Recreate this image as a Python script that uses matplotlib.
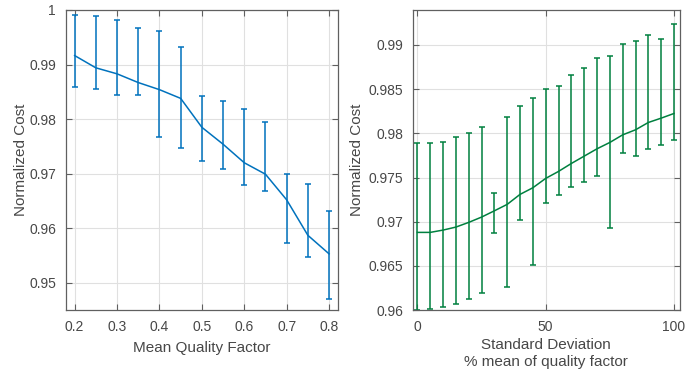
import matplotlib
matplotlib.use('Agg')
import matplotlib.pyplot as plt
import numpy as np

plt.rcParams['font.family'] = ['Liberation Sans', 'DejaVu Sans']

# left panel: cost vs mean quality factor
q_mean = [0.2, 0.25, 0.3, 0.35, 0.4, 0.45, 0.5, 0.55, 0.6, 0.65, 0.7, 0.75, 0.8]
cost_q = [0.99165, 0.9894, 0.9883, 0.9867, 0.9854, 0.9838, 0.9785, 0.9754,
          0.9720, 0.9699, 0.9652, 0.9587, 0.9553]
hi_q = [0.9991, 0.9989, 0.9981, 0.9967, 0.9961, 0.9932, 0.9842, 0.9833,
        0.9818, 0.9795, 0.9700, 0.9681, 0.9632]
lo_q = [0.9859, 0.9855, 0.9844, 0.9844, 0.9767, 0.9747, 0.9724, 0.9708,
        0.9679, 0.9668, 0.9572, 0.9547, 0.9470]

# right panel: cost vs standard deviation (% of mean)
sd = [0, 5, 10, 15, 20, 25, 30, 35, 40, 45, 50, 55, 60, 65, 70, 75, 80, 85, 90, 95, 100]
cost_sd = [0.96879, 0.96879, 0.96905, 0.96939, 0.96992, 0.97052, 0.97123, 0.97196,
           0.97309, 0.97384, 0.97490, 0.97569, 0.97659, 0.97742, 0.97825, 0.97897,
           0.97983, 0.98040, 0.98123, 0.98172, 0.98225]
hi_sd = [0.97893, 0.97893, 0.97904, 0.97954, 0.98002, 0.98070, 0.97327, 0.98183,
         0.98308, 0.98402, 0.98497, 0.98537, 0.98658, 0.98741, 0.98854, 0.98870,
         0.99013, 0.99040, 0.99114, 0.99069, 0.99235]
lo_sd = [0.96000, 0.96008, 0.96030, 0.96068, 0.96121, 0.96192, 0.96871, 0.96257,
         0.97021, 0.96506, 0.97214, 0.97304, 0.97388, 0.97448, 0.97519, 0.96928,
         0.97773, 0.97745, 0.97821, 0.97866, 0.97923]

blue = '#0072BD'
green = '#00803f'
txt = '#474747'

fig = plt.figure(figsize=(6.94, 3.70), dpi=100)
ax1 = fig.add_axes([0.0947, 0.162, 0.392, 0.811])
ax2 = fig.add_axes([0.5947, 0.162, 0.385, 0.811])

def errs(y, lo, hi):
    y = np.array(y)
    return [y - np.array(lo), np.array(hi) - y]

ax1.errorbar(q_mean, cost_q, yerr=errs(cost_q, lo_q, hi_q), color=blue,
             lw=1.1, elinewidth=1.1, capsize=2.2, capthick=1.1)
ax1.set_xlim(0.179, 0.8205)
ax1.set_ylim(0.945, 1.0)
ax1.set_xticks([0.2, 0.3, 0.4, 0.5, 0.6, 0.7, 0.8])
ax1.set_xticklabels(['0.2', '0.3', '0.4', '0.5', '0.6', '0.7', '0.8'])
ax1.set_yticks([0.95, 0.96, 0.97, 0.98, 0.99, 1.0])
ax1.set_yticklabels(['0.95', '0.96', '0.97', '0.98', '0.99', '1'])
ax1.set_xlabel('Mean Quality Factor', fontsize=11, color=txt, labelpad=5)
ax1.set_ylabel('Normalized Cost', fontsize=11, color=txt, labelpad=1)

ax2.errorbar(sd, cost_sd, yerr=errs(cost_sd, lo_sd, hi_sd), color=green,
             lw=1.1, elinewidth=1.1, capsize=2.5, capthick=1.1)
ax2.set_xlim(-1.8, 102.3)
ax2.set_ylim(0.96, 0.99396)
ax2.set_xticks([0, 50, 100])
ax2.set_yticks([0.96, 0.965, 0.97, 0.975, 0.98, 0.985, 0.99])
ax2.set_yticklabels(['0.96', '0.965', '0.97', '0.975', '0.98', '0.985', '0.99'])
ax2.set_xlabel('Standard Deviation\n% mean of quality factor', fontsize=11, color=txt,
               linespacing=1.25, labelpad=3)
ax2.set_ylabel('Normalized Cost', fontsize=11, color=txt, labelpad=3)

for ax in (ax1, ax2):
    ax.grid(True, color='#e0e0e0', lw=0.8)
    ax.set_axisbelow(True)
    for s in ax.spines.values():
        s.set_color('#606060')
        s.set_linewidth(0.9)
    ax.tick_params(direction='in', top=True, right=True, length=4, width=0.8,
                   color='#606060', labelcolor=txt, labelsize=10, pad=7)

fig.savefig('out.png', dpi=100)
